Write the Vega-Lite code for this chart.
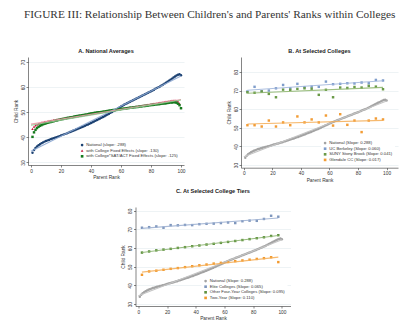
{
"$schema": "https://vega.github.io/schema/vega-lite/v6.json",
"background": "white",
"padding": {"left": 13, "top": 9, "right": 2, "bottom": 2},
"title": {"text": "FIGURE III: Relationship Between Children's and Parents' Ranks within Colleges", "anchor": "start", "font": "Liberation Serif", "fontSize": 11.3, "fontWeight": "normal", "color": "#333333", "offset": 29, "dx": 11},
"datasets": {
"nat": [{"p":1,"y":33.9},{"p":2,"y":35.0},{"p":3,"y":35.8},{"p":4,"y":36.4},{"p":5,"y":36.9},{"p":6,"y":37.3},{"p":7,"y":37.7},{"p":8,"y":38.0},{"p":9,"y":38.3},{"p":10,"y":38.6},{"p":11,"y":38.8},{"p":12,"y":39.0},{"p":13,"y":39.3},{"p":14,"y":39.5},{"p":15,"y":39.7},{"p":16,"y":39.9},{"p":17,"y":40.1},{"p":18,"y":40.3},{"p":19,"y":40.5},{"p":20,"y":40.8},{"p":21,"y":41.0},{"p":22,"y":41.2},{"p":23,"y":41.4},{"p":24,"y":41.6},{"p":25,"y":41.9},{"p":26,"y":42.1},{"p":27,"y":42.3},{"p":28,"y":42.6},{"p":29,"y":42.8},{"p":30,"y":43.1},{"p":31,"y":43.3},{"p":32,"y":43.6},{"p":33,"y":43.8},{"p":34,"y":44.1},{"p":35,"y":44.3},{"p":36,"y":44.6},{"p":37,"y":44.9},{"p":38,"y":45.1},{"p":39,"y":45.4},{"p":40,"y":45.7},{"p":41,"y":46.0},{"p":42,"y":46.3},{"p":43,"y":46.6},{"p":44,"y":46.9},{"p":45,"y":47.2},{"p":46,"y":47.5},{"p":47,"y":47.8},{"p":48,"y":48.1},{"p":49,"y":48.4},{"p":50,"y":48.8},{"p":51,"y":49.1},{"p":52,"y":49.4},{"p":53,"y":49.8},{"p":54,"y":50.1},{"p":55,"y":50.5},{"p":56,"y":50.8},{"p":57,"y":51.2},{"p":58,"y":51.5},{"p":59,"y":51.9},{"p":60,"y":52.3},{"p":61,"y":52.6},{"p":62,"y":53.0},{"p":63,"y":53.3},{"p":64,"y":53.6},{"p":65,"y":53.9},{"p":66,"y":54.2},{"p":67,"y":54.5},{"p":68,"y":54.8},{"p":69,"y":55.1},{"p":70,"y":55.4},{"p":71,"y":55.7},{"p":72,"y":56.0},{"p":73,"y":56.3},{"p":74,"y":56.6},{"p":75,"y":56.9},{"p":76,"y":57.2},{"p":77,"y":57.5},{"p":78,"y":57.8},{"p":79,"y":58.1},{"p":80,"y":58.4},{"p":81,"y":58.7},{"p":82,"y":59.0},{"p":83,"y":59.4},{"p":84,"y":59.7},{"p":85,"y":60.0},{"p":86,"y":60.3},{"p":87,"y":60.7},{"p":88,"y":61.0},{"p":89,"y":61.4},{"p":90,"y":61.8},{"p":91,"y":62.2},{"p":92,"y":62.6},{"p":93,"y":63.0},{"p":94,"y":63.4},{"p":95,"y":63.8},{"p":96,"y":64.2},{"p":97,"y":64.6},{"p":98,"y":64.9},{"p":99,"y":65.1},{"p":100,"y":64.7}],
"red": [{"p":1,"y":43.4},{"p":2,"y":44.3},{"p":3,"y":44.8},{"p":4,"y":45.1},{"p":5,"y":45.4},{"p":6,"y":45.6},{"p":7,"y":45.9},{"p":8,"y":46.0},{"p":9,"y":46.2},{"p":10,"y":46.3},{"p":11,"y":46.4},{"p":12,"y":46.6},{"p":13,"y":46.6},{"p":14,"y":46.8},{"p":15,"y":46.9},{"p":16,"y":46.9},{"p":17,"y":47.1},{"p":18,"y":47.2},{"p":19,"y":47.2},{"p":20,"y":47.4},{"p":21,"y":47.5},{"p":22,"y":47.5},{"p":23,"y":47.7},{"p":24,"y":47.8},{"p":25,"y":47.8},{"p":26,"y":48.0},{"p":27,"y":48.1},{"p":28,"y":48.1},{"p":29,"y":48.3},{"p":30,"y":48.4},{"p":31,"y":48.4},{"p":32,"y":48.6},{"p":33,"y":48.6},{"p":34,"y":48.7},{"p":35,"y":48.9},{"p":36,"y":48.9},{"p":37,"y":49.0},{"p":38,"y":49.2},{"p":39,"y":49.2},{"p":40,"y":49.3},{"p":41,"y":49.5},{"p":42,"y":49.5},{"p":43,"y":49.6},{"p":44,"y":49.8},{"p":45,"y":49.8},{"p":46,"y":49.9},{"p":47,"y":50.1},{"p":48,"y":50.1},{"p":49,"y":50.2},{"p":50,"y":50.3},{"p":51,"y":50.4},{"p":52,"y":50.5},{"p":53,"y":50.6},{"p":54,"y":50.7},{"p":55,"y":50.8},{"p":56,"y":50.9},{"p":57,"y":51.0},{"p":58,"y":51.1},{"p":59,"y":51.2},{"p":60,"y":51.3},{"p":61,"y":51.3},{"p":62,"y":51.5},{"p":63,"y":51.5},{"p":64,"y":51.7},{"p":65,"y":51.7},{"p":66,"y":51.9},{"p":67,"y":51.9},{"p":68,"y":52.1},{"p":69,"y":52.1},{"p":70,"y":52.3},{"p":71,"y":52.3},{"p":72,"y":52.5},{"p":73,"y":52.5},{"p":74,"y":52.7},{"p":75,"y":52.7},{"p":76,"y":52.9},{"p":77,"y":52.9},{"p":78,"y":53.1},{"p":79,"y":53.1},{"p":80,"y":53.3},{"p":81,"y":53.3},{"p":82,"y":53.5},{"p":83,"y":53.5},{"p":84,"y":53.7},{"p":85,"y":53.7},{"p":86,"y":53.9},{"p":87,"y":53.9},{"p":88,"y":54.1},{"p":89,"y":54.1},{"p":90,"y":54.3},{"p":91,"y":54.3},{"p":92,"y":54.5},{"p":93,"y":54.5},{"p":94,"y":54.7},{"p":95,"y":54.7},{"p":96,"y":54.8},{"p":97,"y":54.6},{"p":98,"y":54.3},{"p":99,"y":53.5},{"p":100,"y":51.7}],
"green": [{"p":1,"y":40.2},{"p":2,"y":42.0},{"p":3,"y":43.0},{"p":4,"y":43.7},{"p":5,"y":44.2},{"p":6,"y":44.6},{"p":7,"y":44.9},{"p":8,"y":45.2},{"p":9,"y":45.4},{"p":10,"y":45.6},{"p":11,"y":45.8},{"p":12,"y":46.0},{"p":13,"y":46.1},{"p":14,"y":46.3},{"p":15,"y":46.4},{"p":16,"y":46.6},{"p":17,"y":46.7},{"p":18,"y":46.9},{"p":19,"y":47.0},{"p":20,"y":47.2},{"p":21,"y":47.3},{"p":22,"y":47.4},{"p":23,"y":47.5},{"p":24,"y":47.7},{"p":25,"y":47.8},{"p":26,"y":47.9},{"p":27,"y":48.0},{"p":28,"y":48.1},{"p":29,"y":48.3},{"p":30,"y":48.4},{"p":31,"y":48.5},{"p":32,"y":48.6},{"p":33,"y":48.7},{"p":34,"y":48.8},{"p":35,"y":48.9},{"p":36,"y":49.0},{"p":37,"y":49.1},{"p":38,"y":49.2},{"p":39,"y":49.4},{"p":40,"y":49.5},{"p":41,"y":49.6},{"p":42,"y":49.7},{"p":43,"y":49.8},{"p":44,"y":49.9},{"p":45,"y":50.0},{"p":46,"y":50.0},{"p":47,"y":50.1},{"p":48,"y":50.2},{"p":49,"y":50.3},{"p":50,"y":50.4},{"p":51,"y":50.5},{"p":52,"y":50.6},{"p":53,"y":50.7},{"p":54,"y":50.8},{"p":55,"y":50.9},{"p":56,"y":50.9},{"p":57,"y":51.0},{"p":58,"y":51.1},{"p":59,"y":51.2},{"p":60,"y":51.3},{"p":61,"y":51.4},{"p":62,"y":51.4},{"p":63,"y":51.5},{"p":64,"y":51.6},{"p":65,"y":51.7},{"p":66,"y":51.8},{"p":67,"y":51.8},{"p":68,"y":51.9},{"p":69,"y":52.0},{"p":70,"y":52.1},{"p":71,"y":52.1},{"p":72,"y":52.2},{"p":73,"y":52.3},{"p":74,"y":52.4},{"p":75,"y":52.5},{"p":76,"y":52.5},{"p":77,"y":52.6},{"p":78,"y":52.7},{"p":79,"y":52.8},{"p":80,"y":52.9},{"p":81,"y":52.9},{"p":82,"y":53.0},{"p":83,"y":53.1},{"p":84,"y":53.2},{"p":85,"y":53.2},{"p":86,"y":53.3},{"p":87,"y":53.4},{"p":88,"y":53.5},{"p":89,"y":53.5},{"p":90,"y":53.6},{"p":91,"y":53.7},{"p":92,"y":53.8},{"p":93,"y":53.9},{"p":94,"y":53.9},{"p":95,"y":54.0},{"p":96,"y":54.0},{"p":97,"y":53.8},{"p":98,"y":53.4},{"p":99,"y":52.8},{"p":100,"y":51.6}],
"colleges": [
{"p":2.5,"y":69.5,"s":"UC Berkeley (Slope: 0.060)"},{"p":7.5,"y":72.0,"s":"UC Berkeley (Slope: 0.060)"},{"p":12.5,"y":69.6,"s":"UC Berkeley (Slope: 0.060)"},{"p":17.5,"y":70.0,"s":"UC Berkeley (Slope: 0.060)"},{"p":22.5,"y":71.2,"s":"UC Berkeley (Slope: 0.060)"},{"p":27.5,"y":73.0,"s":"UC Berkeley (Slope: 0.060)"},{"p":32.5,"y":71.2,"s":"UC Berkeley (Slope: 0.060)"},{"p":37.5,"y":73.6,"s":"UC Berkeley (Slope: 0.060)"},{"p":42.5,"y":71.8,"s":"UC Berkeley (Slope: 0.060)"},{"p":47.5,"y":72.1,"s":"UC Berkeley (Slope: 0.060)"},{"p":52.5,"y":72.0,"s":"UC Berkeley (Slope: 0.060)"},{"p":57.5,"y":74.8,"s":"UC Berkeley (Slope: 0.060)"},{"p":62.5,"y":73.4,"s":"UC Berkeley (Slope: 0.060)"},{"p":67.5,"y":73.6,"s":"UC Berkeley (Slope: 0.060)"},{"p":72.5,"y":73.9,"s":"UC Berkeley (Slope: 0.060)"},{"p":77.5,"y":73.8,"s":"UC Berkeley (Slope: 0.060)"},{"p":82.5,"y":74.3,"s":"UC Berkeley (Slope: 0.060)"},{"p":87.5,"y":73.9,"s":"UC Berkeley (Slope: 0.060)"},{"p":92.5,"y":75.7,"s":"UC Berkeley (Slope: 0.060)"},{"p":97.5,"y":75.4,"s":"UC Berkeley (Slope: 0.060)"},
{"p":2.5,"y":69.1,"s":"SUNY Stony Brook (Slope: 0.041)"},{"p":7.5,"y":68.8,"s":"SUNY Stony Brook (Slope: 0.041)"},{"p":12.5,"y":69.5,"s":"SUNY Stony Brook (Slope: 0.041)"},{"p":17.5,"y":68.2,"s":"SUNY Stony Brook (Slope: 0.041)"},{"p":22.5,"y":66.4,"s":"SUNY Stony Brook (Slope: 0.041)"},{"p":27.5,"y":70.5,"s":"SUNY Stony Brook (Slope: 0.041)"},{"p":32.5,"y":70.4,"s":"SUNY Stony Brook (Slope: 0.041)"},{"p":37.5,"y":70.9,"s":"SUNY Stony Brook (Slope: 0.041)"},{"p":42.5,"y":71.2,"s":"SUNY Stony Brook (Slope: 0.041)"},{"p":47.5,"y":71.0,"s":"SUNY Stony Brook (Slope: 0.041)"},{"p":52.5,"y":67.7,"s":"SUNY Stony Brook (Slope: 0.041)"},{"p":57.5,"y":70.4,"s":"SUNY Stony Brook (Slope: 0.041)"},{"p":62.5,"y":66.4,"s":"SUNY Stony Brook (Slope: 0.041)"},{"p":67.5,"y":71.6,"s":"SUNY Stony Brook (Slope: 0.041)"},{"p":72.5,"y":71.4,"s":"SUNY Stony Brook (Slope: 0.041)"},{"p":77.5,"y":71.9,"s":"SUNY Stony Brook (Slope: 0.041)"},{"p":82.5,"y":71.6,"s":"SUNY Stony Brook (Slope: 0.041)"},{"p":87.5,"y":72.5,"s":"SUNY Stony Brook (Slope: 0.041)"},{"p":92.5,"y":72.1,"s":"SUNY Stony Brook (Slope: 0.041)"},{"p":97.5,"y":70.7,"s":"SUNY Stony Brook (Slope: 0.041)"},
{"p":2.5,"y":51.4,"s":"Glendale CC (Slope: 0.017)"},{"p":7.5,"y":51.4,"s":"Glendale CC (Slope: 0.017)"},{"p":12.5,"y":50.7,"s":"Glendale CC (Slope: 0.017)"},{"p":17.5,"y":53.9,"s":"Glendale CC (Slope: 0.017)"},{"p":22.5,"y":50.7,"s":"Glendale CC (Slope: 0.017)"},{"p":27.5,"y":52.9,"s":"Glendale CC (Slope: 0.017)"},{"p":32.5,"y":51.4,"s":"Glendale CC (Slope: 0.017)"},{"p":37.5,"y":56.1,"s":"Glendale CC (Slope: 0.017)"},{"p":42.5,"y":52.9,"s":"Glendale CC (Slope: 0.017)"},{"p":47.5,"y":54.5,"s":"Glendale CC (Slope: 0.017)"},{"p":52.5,"y":52.9,"s":"Glendale CC (Slope: 0.017)"},{"p":57.5,"y":56.6,"s":"Glendale CC (Slope: 0.017)"},{"p":62.5,"y":51.2,"s":"Glendale CC (Slope: 0.017)"},{"p":67.5,"y":57.3,"s":"Glendale CC (Slope: 0.017)"},{"p":72.5,"y":51.6,"s":"Glendale CC (Slope: 0.017)"},{"p":77.5,"y":53.9,"s":"Glendale CC (Slope: 0.017)"},{"p":82.5,"y":47.7,"s":"Glendale CC (Slope: 0.017)"},{"p":87.5,"y":53.9,"s":"Glendale CC (Slope: 0.017)"},{"p":92.5,"y":55.0,"s":"Glendale CC (Slope: 0.017)"},{"p":97.5,"y":54.5,"s":"Glendale CC (Slope: 0.017)"}],
"tiers": [
{"p":2.5,"y":70.9,"s":"Elite Colleges (Slope: 0.065)"},{"p":7.5,"y":71.2,"s":"Elite Colleges (Slope: 0.065)"},{"p":12.5,"y":71.6,"s":"Elite Colleges (Slope: 0.065)"},{"p":17.5,"y":70.9,"s":"Elite Colleges (Slope: 0.065)"},{"p":22.5,"y":72.3,"s":"Elite Colleges (Slope: 0.065)"},{"p":27.5,"y":72.2,"s":"Elite Colleges (Slope: 0.065)"},{"p":32.5,"y":72.4,"s":"Elite Colleges (Slope: 0.065)"},{"p":37.5,"y":72.3,"s":"Elite Colleges (Slope: 0.065)"},{"p":42.5,"y":72.8,"s":"Elite Colleges (Slope: 0.065)"},{"p":47.5,"y":73.0,"s":"Elite Colleges (Slope: 0.065)"},{"p":52.5,"y":73.1,"s":"Elite Colleges (Slope: 0.065)"},{"p":57.5,"y":73.4,"s":"Elite Colleges (Slope: 0.065)"},{"p":62.5,"y":73.7,"s":"Elite Colleges (Slope: 0.065)"},{"p":67.5,"y":73.4,"s":"Elite Colleges (Slope: 0.065)"},{"p":72.5,"y":74.4,"s":"Elite Colleges (Slope: 0.065)"},{"p":77.5,"y":74.7,"s":"Elite Colleges (Slope: 0.065)"},{"p":82.5,"y":74.6,"s":"Elite Colleges (Slope: 0.065)"},{"p":87.5,"y":75.6,"s":"Elite Colleges (Slope: 0.065)"},{"p":92.5,"y":77.3,"s":"Elite Colleges (Slope: 0.065)"},{"p":97.5,"y":76.8,"s":"Elite Colleges (Slope: 0.065)"},
{"p":2.5,"y":57.6,"s":"Other Four-Year Colleges (Slope: 0.095)"},{"p":7.5,"y":58.2,"s":"Other Four-Year Colleges (Slope: 0.095)"},{"p":12.5,"y":58.8,"s":"Other Four-Year Colleges (Slope: 0.095)"},{"p":17.5,"y":59.2,"s":"Other Four-Year Colleges (Slope: 0.095)"},{"p":22.5,"y":59.6,"s":"Other Four-Year Colleges (Slope: 0.095)"},{"p":27.5,"y":60.1,"s":"Other Four-Year Colleges (Slope: 0.095)"},{"p":32.5,"y":60.5,"s":"Other Four-Year Colleges (Slope: 0.095)"},{"p":37.5,"y":61.0,"s":"Other Four-Year Colleges (Slope: 0.095)"},{"p":42.5,"y":61.4,"s":"Other Four-Year Colleges (Slope: 0.095)"},{"p":47.5,"y":61.9,"s":"Other Four-Year Colleges (Slope: 0.095)"},{"p":52.5,"y":62.3,"s":"Other Four-Year Colleges (Slope: 0.095)"},{"p":57.5,"y":62.8,"s":"Other Four-Year Colleges (Slope: 0.095)"},{"p":62.5,"y":63.3,"s":"Other Four-Year Colleges (Slope: 0.095)"},{"p":67.5,"y":63.8,"s":"Other Four-Year Colleges (Slope: 0.095)"},{"p":72.5,"y":64.3,"s":"Other Four-Year Colleges (Slope: 0.095)"},{"p":77.5,"y":64.8,"s":"Other Four-Year Colleges (Slope: 0.095)"},{"p":82.5,"y":65.3,"s":"Other Four-Year Colleges (Slope: 0.095)"},{"p":87.5,"y":65.8,"s":"Other Four-Year Colleges (Slope: 0.095)"},{"p":92.5,"y":66.5,"s":"Other Four-Year Colleges (Slope: 0.095)"},{"p":97.5,"y":66.9,"s":"Other Four-Year Colleges (Slope: 0.095)"},
{"p":2.5,"y":45.7,"s":"Two-Year (Slope: 0.110)"},{"p":7.5,"y":47.5,"s":"Two-Year (Slope: 0.110)"},{"p":12.5,"y":47.9,"s":"Two-Year (Slope: 0.110)"},{"p":17.5,"y":48.4,"s":"Two-Year (Slope: 0.110)"},{"p":22.5,"y":48.9,"s":"Two-Year (Slope: 0.110)"},{"p":27.5,"y":49.3,"s":"Two-Year (Slope: 0.110)"},{"p":32.5,"y":49.8,"s":"Two-Year (Slope: 0.110)"},{"p":37.5,"y":50.3,"s":"Two-Year (Slope: 0.110)"},{"p":42.5,"y":50.8,"s":"Two-Year (Slope: 0.110)"},{"p":47.5,"y":51.2,"s":"Two-Year (Slope: 0.110)"},{"p":52.5,"y":51.7,"s":"Two-Year (Slope: 0.110)"},{"p":57.5,"y":52.1,"s":"Two-Year (Slope: 0.110)"},{"p":62.5,"y":52.6,"s":"Two-Year (Slope: 0.110)"},{"p":67.5,"y":53.0,"s":"Two-Year (Slope: 0.110)"},{"p":72.5,"y":53.4,"s":"Two-Year (Slope: 0.110)"},{"p":77.5,"y":53.8,"s":"Two-Year (Slope: 0.110)"},{"p":82.5,"y":54.2,"s":"Two-Year (Slope: 0.110)"},{"p":87.5,"y":54.6,"s":"Two-Year (Slope: 0.110)"},{"p":92.5,"y":55.1,"s":"Two-Year (Slope: 0.110)"},{"p":97.5,"y":52.5,"s":"Two-Year (Slope: 0.110)"}]
},
"vconcat": [
{"hconcat": [
 {"title": {"text": "A. National Averages", "offset": 2},
  "width": 156, "height": 108,
  "layer": [
   {"data": {"name": "nat"}, "mark": {"type": "point", "filled": true, "size": 6, "opacity": 1},
    "encoding": {
     "x": {"field": "p", "type": "quantitative", "scale": {"domain": [-2, 102], "nice": false, "zero": false}, "axis": {"values": [0,20,40,60,80,100], "tickCount": 20, "title": "Parent Rank", "labelOverlap": false, "labelFlush": false, "labelBound": false}},
     "y": {"field": "y", "type": "quantitative", "scale": {"domain": [29, 72], "nice": false, "zero": false}, "axis": {"values": [30,40,50,60,70], "tickCount": 20, "title": "Child Rank", "labelOverlap": false, "labelFlush": false, "labelBound": false}},
     "color": {"datum": "National (slope: .288)", "type": "nominal", "title": null, "scale": {"domain": ["National (slope: .288)", "with College Fixed Effects (slope: .130)", "with College*SAT/ACT Fixed Effects (slope: .125)"], "range": ["#1c4272", "#c4123a", "#167a1e"]}, "legend": {"orient": "bottom-right", "offset": 4, "title": null}},
     "shape": {"datum": "National (slope: .288)", "type": "nominal", "title": null, "scale": {"domain": ["National (slope: .288)", "with College Fixed Effects (slope: .130)", "with College*SAT/ACT Fixed Effects (slope: .125)"], "range": ["circle", "triangle-up", "square"]}, "legend": {"orient": "bottom-right", "offset": 4, "title": null}}
    }},
   {"data": {"name": "red"}, "mark": {"type": "point", "filled": true, "size": 6, "opacity": 1},
    "encoding": {"x": {"field": "p", "type": "quantitative"}, "y": {"field": "y", "type": "quantitative"},
     "color": {"datum": "with College Fixed Effects (slope: .130)", "type": "nominal", "title": null},
     "shape": {"datum": "with College Fixed Effects (slope: .130)", "type": "nominal", "title": null}}},
   {"data": {"name": "green"}, "mark": {"type": "point", "filled": true, "size": 6, "opacity": 1},
    "encoding": {"x": {"field": "p", "type": "quantitative"}, "y": {"field": "y", "type": "quantitative"},
     "color": {"datum": "with College*SAT/ACT Fixed Effects (slope: .125)", "type": "nominal", "title": null},
     "shape": {"datum": "with College*SAT/ACT Fixed Effects (slope: .125)", "type": "nominal", "title": null}}},
   {"data": {"name": "nat"}, "transform": [{"regression": "y", "on": "p", "extent": [0, 100]}], "mark": {"type": "line", "color": "#8aa5cf", "strokeWidth": 1.1, "opacity": 0.9},
    "encoding": {"x": {"field": "p", "type": "quantitative"}, "y": {"field": "y", "type": "quantitative"}}},
   {"data": {"name": "red"}, "transform": [{"regression": "y", "on": "p", "extent": [0, 100]}], "mark": {"type": "line", "color": "#ec9aa8", "strokeWidth": 1.1, "opacity": 0.9},
    "encoding": {"x": {"field": "p", "type": "quantitative"}, "y": {"field": "y", "type": "quantitative"}}},
   {"data": {"name": "green"}, "transform": [{"regression": "y", "on": "p", "extent": [0, 100]}], "mark": {"type": "line", "color": "#92c592", "strokeWidth": 1.1, "opacity": 0.9},
    "encoding": {"x": {"field": "p", "type": "quantitative"}, "y": {"field": "y", "type": "quantitative"}}}
  ],
  "resolve": {"scale": {"color": "shared", "shape": "shared"}}
 },
 {"title": {"text": "B. At Selected Colleges", "offset": 2},
  "width": 157, "height": 110.7,
  "layer": [
   {"data": {"name": "nat"}, "mark": {"type": "point", "filled": true, "size": 6, "opacity": 1},
    "encoding": {
     "x": {"field": "p", "type": "quantitative", "scale": {"domain": [-2, 108], "nice": false, "zero": false}, "axis": {"values": [0,20,40,60,80,100], "tickCount": 20, "title": "Parent Rank", "labelOverlap": false, "labelFlush": false, "labelBound": false}},
     "y": {"field": "y", "type": "quantitative", "scale": {"domain": [28.6, 88], "nice": false, "zero": false}, "axis": {"values": [30,40,50,60,70,80], "tickCount": 20, "title": "Child Rank", "labelOverlap": false, "labelFlush": false, "labelBound": false}},
     "color": {"datum": "National (Slope: 0.288)", "type": "nominal", "title": null, "scale": {"domain": ["National (Slope: 0.288)", "UC Berkeley (Slope: 0.060)", "SUNY Stony Brook (Slope: 0.041)", "Glendale CC (Slope: 0.017)"], "range": ["#a3a3a3", "#7f9dcb", "#6a9a48", "#f29c35"]}, "legend": {"orient": "bottom-right", "offset": 3, "title": null}},
     "shape": {"datum": "National (Slope: 0.288)", "type": "nominal", "title": null, "scale": {"domain": ["National (Slope: 0.288)", "UC Berkeley (Slope: 0.060)", "SUNY Stony Brook (Slope: 0.041)", "Glendale CC (Slope: 0.017)"], "range": ["circle", "square", "square", "square"]}, "legend": {"orient": "bottom-right", "offset": 3, "title": null}}
    }},
   {"data": {"name": "colleges"}, "mark": {"type": "point", "filled": true, "size": 6, "opacity": 1},
    "encoding": {"x": {"field": "p", "type": "quantitative"}, "y": {"field": "y", "type": "quantitative"},
     "color": {"field": "s", "type": "nominal", "title": null}, "shape": {"field": "s", "type": "nominal", "title": null}}},
   {"data": {"name": "nat"}, "transform": [{"regression": "y", "on": "p", "extent": [0, 100]}], "mark": {"type": "line", "color": "#c4c4c4", "strokeWidth": 1.1},
    "encoding": {"x": {"field": "p", "type": "quantitative"}, "y": {"field": "y", "type": "quantitative"}}},
   {"data": {"name": "colleges"}, "transform": [{"regression": "y", "on": "p", "groupby": ["s"], "extent": [2.5, 97.5]}], "mark": {"type": "line", "strokeWidth": 1.1, "opacity": 0.85},
    "encoding": {"x": {"field": "p", "type": "quantitative"}, "y": {"field": "y", "type": "quantitative"}, "detail": {"field": "s", "type": "nominal"},
     "stroke": {"field": "s", "type": "nominal", "title": null, "scale": {"domain": ["UC Berkeley (Slope: 0.060)", "SUNY Stony Brook (Slope: 0.041)", "Glendale CC (Slope: 0.017)"], "range": ["#9db4da", "#8cb46a", "#f5ad55"]}, "legend": null}}}
  ],
  "resolve": {"scale": {"color": "shared", "shape": "shared"}}
 }
], "spacing": 39,
 "resolve": {"scale": {"color": "independent", "shape": "independent", "stroke": "independent"}, "legend": {"color": "independent", "shape": "independent"}}},
{"title": {"text": "C. At Selected College Tiers", "offset": 12},
 "width": 155, "height": 99,
 "layer": [
   {"data": {"name": "nat"}, "mark": {"type": "point", "filled": true, "size": 6, "opacity": 1},
    "encoding": {
     "x": {"field": "p", "type": "quantitative", "scale": {"domain": [-2, 106], "nice": false, "zero": false}, "axis": {"values": [0,20,40,60,80,100], "tickCount": 20, "title": "Parent Rank", "labelOverlap": false, "labelFlush": false, "labelBound": false}},
     "y": {"field": "y", "type": "quantitative", "scale": {"domain": [29, 82], "nice": false, "zero": false}, "axis": {"values": [30,40,50,60,70,80], "tickCount": 20, "title": "Child Rank", "labelOverlap": false, "labelFlush": false, "labelBound": false}},
     "color": {"datum": "National (Slope: 0.288)", "type": "nominal", "title": null, "scale": {"domain": ["National (Slope: 0.288)", "Elite Colleges (Slope: 0.065)", "Other Four-Year Colleges (Slope: 0.095)", "Two-Year (Slope: 0.110)"], "range": ["#a3a3a3", "#7f97bd", "#5f913f", "#f29a2e"]}, "legend": {"orient": "bottom-right", "offset": 3, "title": null}},
     "shape": {"datum": "National (Slope: 0.288)", "type": "nominal", "title": null, "scale": {"domain": ["National (Slope: 0.288)", "Elite Colleges (Slope: 0.065)", "Other Four-Year Colleges (Slope: 0.095)", "Two-Year (Slope: 0.110)"], "range": ["circle", "square", "square", "square"]}, "legend": {"orient": "bottom-right", "offset": 3, "title": null}}
    }},
   {"data": {"name": "tiers"}, "mark": {"type": "point", "filled": true, "size": 6, "opacity": 1},
    "encoding": {"x": {"field": "p", "type": "quantitative"}, "y": {"field": "y", "type": "quantitative"},
     "color": {"field": "s", "type": "nominal", "title": null}, "shape": {"field": "s", "type": "nominal", "title": null}}},
   {"data": {"name": "nat"}, "transform": [{"regression": "y", "on": "p", "extent": [0, 100]}], "mark": {"type": "line", "color": "#c4c4c4", "strokeWidth": 1.1},
    "encoding": {"x": {"field": "p", "type": "quantitative"}, "y": {"field": "y", "type": "quantitative"}}},
   {"data": {"name": "tiers"}, "transform": [{"regression": "y", "on": "p", "groupby": ["s"], "extent": [2.5, 97.5]}], "mark": {"type": "line", "strokeWidth": 1.1, "opacity": 0.85},
    "encoding": {"x": {"field": "p", "type": "quantitative"}, "y": {"field": "y", "type": "quantitative"}, "detail": {"field": "s", "type": "nominal"},
     "stroke": {"field": "s", "type": "nominal", "title": null, "scale": {"domain": ["Elite Colleges (Slope: 0.065)", "Other Four-Year Colleges (Slope: 0.095)", "Two-Year (Slope: 0.110)"], "range": ["#9aaed0", "#86b068", "#f5ad55"]}, "legend": null}}}
 ],
 "resolve": {"scale": {"color": "shared", "shape": "shared"}}
}
],
"spacing": 6,
"center": true,
"resolve": {"scale": {"color": "independent", "shape": "independent", "stroke": "independent"}, "legend": {"color": "independent", "shape": "independent"}},
"config": {
 "view": {"stroke": null},
 "font": "Liberation Sans",
 "axis": {"labelFontSize": 4.8, "titleFontSize": 4.8, "titleFontWeight": "normal", "domainColor": "#333333", "tickColor": "#333333", "tickSize": 2, "labelPadding": 1, "titlePadding": 2, "labelColor": "#333333", "titleColor": "#333333", "gridColor": "#e2ebef", "gridWidth": 0.6, "domainWidth": 0.6, "tickWidth": 0.6},
 "axisX": {"grid": false},
 "axisY": {"grid": true, "labelAngle": 270},
 "title": {"fontSize": 5.6, "fontWeight": "bold", "color": "#222222", "font": "Liberation Sans"},
 "legend": {"labelFontSize": 4.2, "symbolSize": 7, "rowPadding": 0.6, "padding": 2, "fillColor": "white", "symbolStrokeWidth": 0, "labelLimit": 300, "labelColor": "#333333", "symbolOffset": 0, "labelOffset": 2, "titleFontSize": 0}
}
}
